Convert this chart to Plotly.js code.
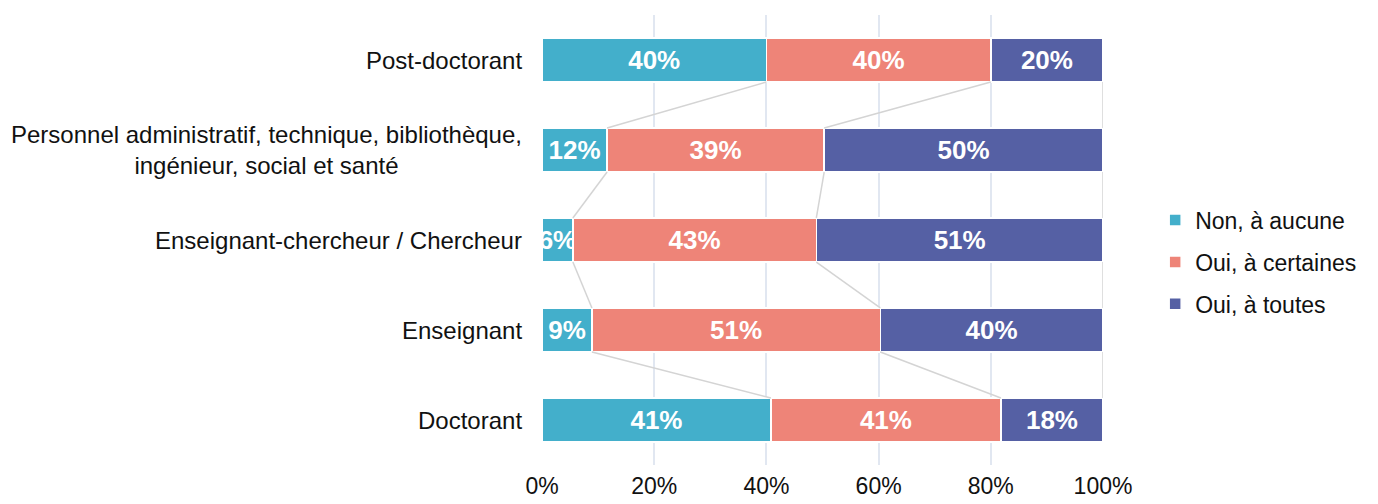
<!DOCTYPE html>
<html>
<head>
<meta charset="utf-8">
<script src="https://cdn.plot.ly/plotly-3.0.1.min.js"></script>
<style>html,body{margin:0;padding:0;background:#fff;}#chart{width:1378px;height:504px;}</style>
</head>
<body>
<div id="chart"></div>
<script>
const categories = [
  "Post-doctorant",
  "Personnel administratif, technique, bibliothèque,<br>ingénieur, social et santé",
  "Enseignant-chercheur / Chercheur",
  "Enseignant",
  "Doctorant"
];
const seriesNames = ["Non, à aucune", "Oui, à certaines", "Oui, à toutes"];
const nonAucune   = [40.0, 11.6, 5.5, 8.9, 40.8];
const ouiCertaines = [40.0, 38.7, 43.4, 51.4, 41.0];
const ouiToutes   = [20.0, 49.7, 51.1, 39.7, 18.2];
const tickVals = [0, 20, 40, 60, 80, 100];
const tickText = ["0%", "20%", "40%", "60%", "80%", "100%"];
const colors = ["#43AFCB", "#EE8478", "#5560A4"];

const FONT = "'Liberation Sans', Arial, sans-serif";
const series = [nonAucune, ouiCertaines, ouiToutes];
const barW = 0.49;
const idx = categories.map((c, i) => i);

const traces = series.map((vals, k) => ({
  type: "bar",
  orientation: "h",
  name: seriesNames[k],
  legendgroup: "g" + k,
  y: idx,
  x: vals,
  width: barW,
  marker: { color: colors[k], line: { color: "#ffffff", width: 1.5 } },
  text: vals.map(v => Math.round(v) + "%"),
  textposition: "inside",
  insidetextanchor: "middle",
  textangle: 0,
  constraintext: "none",
  textfont: { family: FONT, size: 26, color: "#ffffff", weight: "bold" },
  hoverinfo: "skip"
}));

// series lines connecting cumulative ends between adjacent bars
const shapes = [];
const cum = series.map((s, k) => idx.map(i => series.slice(0, k + 1).reduce((a, ser) => a + ser[i], 0)));
for (let k = 0; k < series.length; k++) {
  for (let i = 0; i < idx.length - 1; i++) {
    shapes.push({
      type: "line", xref: "x", yref: "y", layer: "above",
      x0: cum[k][i], y0: i + barW / 2,
      x1: cum[k][i + 1], y1: i + 1 - barW / 2,
      line: { color: "#D4D4D4", width: 1.5 }
    });
  }
}

const annotations = categories.map((c, i) => ({
  xref: "paper", yref: "y", x: 0, y: i,
  xanchor: "right", yanchor: "middle", xshift: -18,
  text: c, showarrow: false, align: "center",
  font: { family: FONT, size: 24, color: "#111111" }
}));

const layout = {
  width: 1378, height: 504,
  margin: { l: 542, r: 275, t: 15, b: 39 },
  paper_bgcolor: "#ffffff", plot_bgcolor: "#ffffff",
  barmode: "stack",
  showlegend: true,
  legend: {
    x: 1.093, xanchor: "left", y: 0.451, yanchor: "middle",
    traceorder: "grouped", tracegroupgap: 9,
    font: { family: FONT, size: 23, color: "#111111" },
    itemwidth: 30
  },
  xaxis: {
    range: [0, 100], tickvals: tickVals, ticktext: tickText,
    showgrid: true, gridcolor: "#E1E7F1", gridwidth: 2,
    zeroline: false, showline: false, ticks: "",
    ticklabelstandoff: 5,
    tickfont: { family: FONT, size: 23, color: "#111111" },
    fixedrange: true
  },
  yaxis: {
    range: [4.5, -0.5], showticklabels: false, showgrid: false,
    zeroline: false, showline: false, ticks: "", fixedrange: true
  },
  shapes: shapes,
  annotations: annotations,
  font: { family: FONT }
};

Plotly.newPlot("chart", traces, layout, { displayModeBar: false, staticPlot: true });
</script>
</body>
</html>
